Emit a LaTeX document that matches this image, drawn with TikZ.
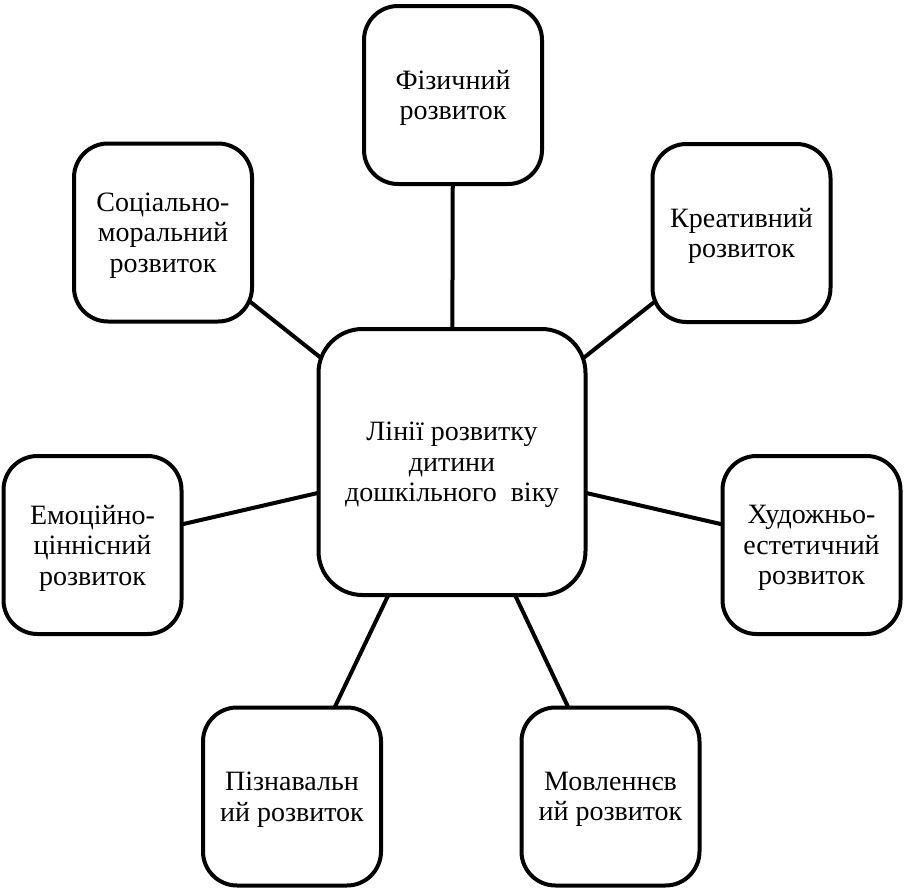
\documentclass[tikz,border=0pt]{standalone}
\usepackage{fontspec}
\setmainfont{Liberation Serif}
\newfontfamily\tnr{Liberation Serif}
\usetikzlibrary{backgrounds}
\begin{document}
\begin{tikzpicture}[x=1pt,y=-1pt,
  box/.style={draw=black,line width=4pt,fill=white,rounded corners=34pt,
    minimum width=178pt,minimum height=178pt,align=center,inner sep=0pt,
    text depth=0pt,font=\tnr\fontsize{28}{30.5}\selectfont},
  hub/.style={box,minimum width=267pt,minimum height=266pt,rounded corners=44pt},
  link/.style={line width=4pt}]
\useasboundingbox (0,0) rectangle (906,889);
\node[hub] (c) at (452,462) {Лінії розвитку\\дитини\\дошкільного\ \ віку};
\node[box] (phys) at (453,95) {Фізичний\\розвиток};
\node[box] (soc) at (163,232.5) {Соціально-\\моральний\\розвиток};
\node[box] (cre) at (741.5,233) {Креативний\\розвиток};
\node[box] (emo) at (92.5,545) {Емоційно-\\ціннісний\\розвиток};
\node[box] (art) at (811.5,545) {Художньо-\\естетичний\\розвиток};
\node[box] (cog) at (292,796.5) {Пізнавальн\\ий розвиток};
\node[box] (sp) at (610.5,796.5) {Мовленнєв\\ий розвиток};
\begin{pgfonlayer}{background}
\draw[link] (c.center) -- (phys.center);
\draw[link] (c.center) -- (soc.center);
\draw[link] (c.center) -- (cre.center);
\draw[link] (c.center) -- (emo.center);
\draw[link] (c.center) -- (art.center);
\draw[link] (c.center) -- (cog.center);
\draw[link] (c.center) -- (sp.center);
\end{pgfonlayer}
\end{tikzpicture}
\end{document}
